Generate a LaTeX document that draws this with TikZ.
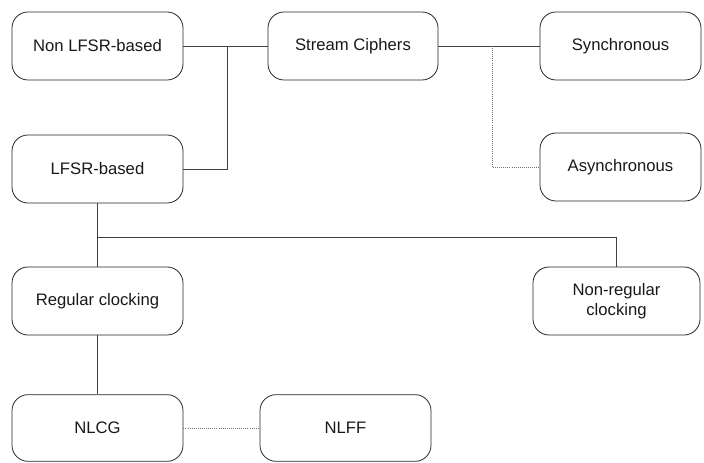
\documentclass[tikz,border=0pt]{standalone}
\usepackage{fontspec}
\setmainfont{Liberation Sans}
\begin{document}
\begin{tikzpicture}[x=0.75pt,y=-0.75pt,
  box/.style={draw=black!85, line width=0.6pt, rounded corners=12pt,
    minimum height=51pt, inner sep=0pt, align=center,
    font=\fontsize{12.5}{15}\selectfont, text=black!90},
  link/.style={draw=black!75, line width=0.55pt},
  faint/.style={draw=black!55, line width=0.55pt, densely dotted}]
\useasboundingbox (0,0) rectangle (704,463);

% taxonomy boxes
\node[box, minimum width=128.25pt] (nonlfsr) at (97.5,46)  {Non LFSR-based};
\node[box, minimum width=127.5pt]  (stream)  at (353,46)   {Stream Ciphers};
\node[box, minimum width=120.75pt] (sync)    at (620.5,46) {Synchronous};
\node[box, minimum width=120.75pt] (async)   at (620.5,167) {Asynchronous};
\node[box, minimum width=128.25pt] (lfsr)    at (97.5,169) {LFSR-based};
\node[box, minimum width=128.25pt] (regular) at (97.5,301) {Regular clocking};
\node[box, minimum width=125.25pt] (nonreg)  at (616.5,301) {Non-regular\\clocking};
\node[box, minimum width=128.25pt, minimum height=50pt] (nlcg) at (97.5,428) {NLCG};
\node[box, minimum width=128.25pt, minimum height=50pt] (nlff) at (345.5,428) {NLFF};

% branch points
\coordinate (j1) at (227,46);
\coordinate (j2) at (492,46);
\coordinate (j3) at (97.5,237);
\coordinate (j4) at (616.5,237);

% connectors
\draw[link] (nonlfsr.east) -- (stream.west);
\draw[link] (j1) |- (lfsr.east);
\draw[link] (stream.east) -- (sync.west);
\draw[faint] (j2) |- (async.west);
\draw[link] (lfsr.south) -- (regular.north);
\draw[link] (j3) -- (j4) -- (nonreg.north);
\draw[link] (regular.south) -- (nlcg.north);
\draw[faint] (nlcg.east) -- (nlff.west);
\end{tikzpicture}
\end{document}
